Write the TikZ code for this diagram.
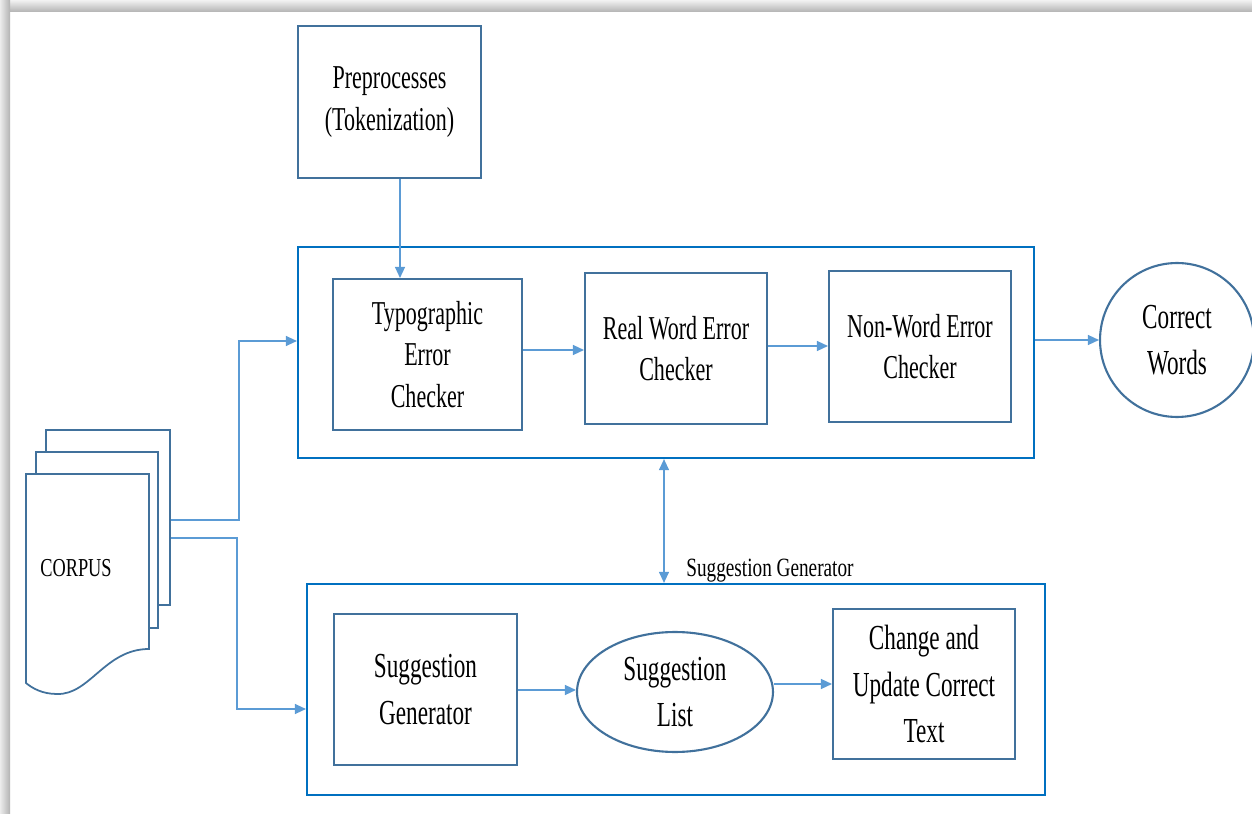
\documentclass[tikz,border=0pt]{standalone}
\usepackage{fontspec}
\setmainfont{Liberation Serif}
\usepackage{graphicx}
\usepackage{xcolor}
\usetikzlibrary{arrows.meta}
\usetikzlibrary{shapes.geometric}

\definecolor{outblue}{HTML}{0070C0}
\definecolor{boxblue}{HTML}{41719C}
\definecolor{arrblue}{HTML}{5B9BD5}
\newcommand{\nar}[1]{\scalebox{0.66}[1]{#1}}

\begin{document}
\begin{tikzpicture}[x=0.02cm,y=-0.02cm,
    inbox/.style={draw=boxblue,line width=1.2pt,fill=white,inner sep=0pt,align=center,font=\fontsize{19}{23.8}\selectfont},
    lowbox/.style={inbox,font=\fontsize{20}{26.5}\selectfont},
    outbox/.style={draw=outblue,line width=1.3pt,inner sep=0pt},
    conn/.style={draw=arrblue,line width=0.7pt,-{Triangle[length=0.22cm,width=0.2cm]}},
    page/.style={draw=boxblue,line width=1pt,fill=white}]
            \useasboundingbox (0,0) rectangle (1252,814);
            \shade[top color=gray!10,bottom color=gray!60] (0,0) rectangle (1252,12);
            \shade[left color=gray!15,right color=gray!60] (0,0) rectangle (10,814);

            % top row
            \node[inbox,minimum width=3.66cm,minimum height=3.04cm] (pre) at (389.5,102){\nar{Preprocesses}\\ \nar{(Tokenization)}};
            \node[outbox,minimum width=14.72cm,minimum height=4.22cm] (top) at (666,352.5){};
            \node[inbox,minimum width=3.78cm,minimum height=3.02cm] (typo) at (427.5,354.5){\nar{Typographic}\\ \nar{Error}\\ \nar{Checker}};
            \node[inbox,minimum width=3.64cm,minimum height=3.02cm] (real) at (676,348.5){\nar{Real Word Error}\\ \nar{Checker}};
            \node[inbox,minimum width=3.64cm,minimum height=3.02cm] (nonw) at (920,346.5){\nar{Non-Word Error}\\ \nar{Checker}};
            \node[lowbox,circle,minimum size=3.08cm] (cw) at (1177,340){\nar{Correct}\\ \nar{Words}};

            % bottom row
            \node[outbox,minimum width=14.76cm,minimum height=4.22cm] (bot) at (676,689.5){};
            \node[lowbox,minimum width=3.66cm,minimum height=3.02cm] (sg) at (425.5,689.5){\nar{Suggestion}\\ \nar{Generator}};
            \node[lowbox,ellipse,minimum width=3.92cm,minimum height=2.4cm] (sl) at (675,692){\nar{Suggestion}\\ \nar{List}};
            \node[lowbox,minimum width=3.64cm,minimum height=3.0cm] (chg) at (924,684){\nar{Change and}\\ \nar{Update Correct}\\ \nar{Text}};
            \node[anchor=west,inner sep=0pt,font=\fontsize{15}{18}\selectfont] (lbl) at (686,571){\scalebox{0.73}[1]{Suggestion Generator}};

            % corpus pages
            \node[page,minimum width=2.48cm,minimum height=3.5cm,inner sep=0pt] (corpus) at (108,517.5){};
            \draw[page] (36,452) rectangle (158,628);
            \draw[page] (26,474) -- (149,474) -- (149,649) .. controls (105,649) and (90,695) .. (57,694) .. controls (42,694) and (32,688) .. (26,683) -- cycle;
            \node[inner sep=0pt,font=\fontsize{14.7}{17}\selectfont] (ctext) at (76,568){\scalebox{0.71}[1]{CORPUS}};

            % connectors
            \draw[conn] (pre.south -| 400,0) -- (typo.north -| 400,0);
            \draw[conn] (typo.east |- 0,350) -- (real.west |- 0,350);
            \draw[conn] (real.east |- 0,346) -- (nonw.west |- 0,346);
            \draw[conn] (top.east |- cw.west) -- (cw.west);
            \draw[conn,{Triangle[length=0.22cm,width=0.2cm]}-{Triangle[length=0.22cm,width=0.2cm]}] (top.south -| 664,0) -- (bot.north -| 664,0);
            \draw[conn] (sg.east |- 0,690) -- (sl.west |- 0,690);
            \draw[conn] (sl.east |- 0,684) -- (chg.west |- 0,684);
            \draw[conn] (corpus.east) ++(0,2.5) -| (239,341) -- (top.west |- 0,341);
            \draw[conn] (corpus.east) ++(0,20.5) -| (237,709) -- (bot.west |- 0,709);
\end{tikzpicture}
\end{document}
